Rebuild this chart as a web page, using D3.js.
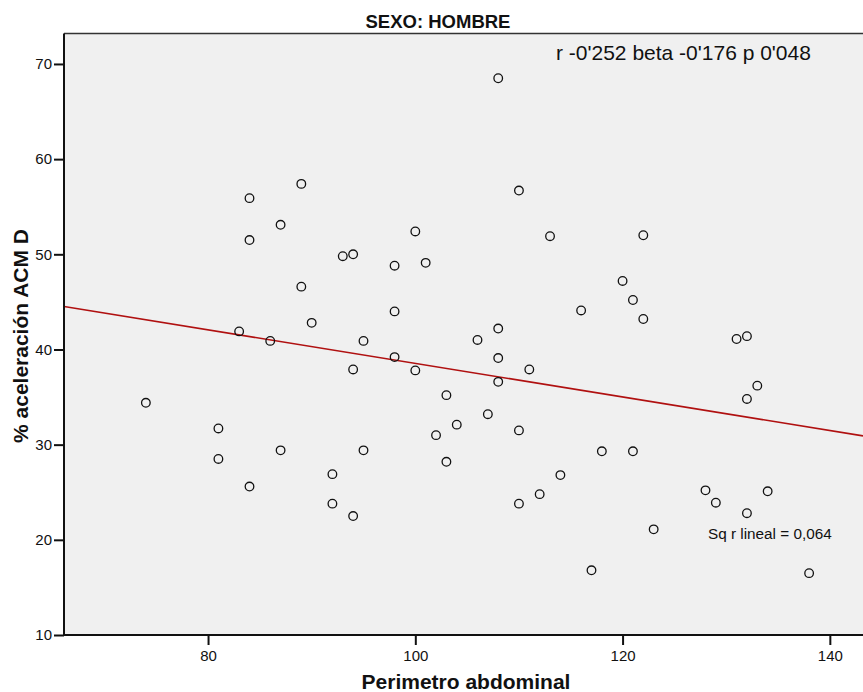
<!DOCTYPE html>
<html>
<head>
<meta charset="utf-8">
<script src="https://cdn.jsdelivr.net/npm/d3@7/dist/d3.min.js"></script>
<style>
  html, body { margin: 0; padding: 0; background: #ffffff; }
  svg { display: block; }
  text { font-family: "Liberation Sans", Arial, sans-serif; fill: #111; }
</style>
</head>
<body>
<svg id="chart" width="863" height="692"></svg>
<script>
// ---- Data ----
const perimetro = [
  74, 81, 81, 83, 84, 84, 84, 86, 87, 87, 89, 89, 90, 92, 92, 93, 94, 94, 94, 95, 95,
  98, 98, 98, 100, 100, 101, 102, 103, 103, 104, 106, 107, 108, 108, 108, 108,
  110, 110, 110, 111, 112, 113, 114, 116, 117, 118, 120, 121, 121, 122, 122, 123,
  128, 129, 131, 132, 132, 132, 133, 134, 138
];
const aceleracion = [
  34.4, 31.7, 28.5, 41.9, 55.9, 51.5, 25.6, 40.9, 53.1, 29.4, 57.4, 46.6, 42.8, 26.9, 23.8, 49.8, 50.0, 37.9, 22.5, 40.9, 29.4,
  48.8, 44.0, 39.2, 52.4, 37.8, 49.1, 31.0, 35.2, 28.2, 32.1, 41.0, 33.2, 68.5, 42.2, 39.1, 36.6,
  56.7, 31.5, 23.8, 37.9, 24.8, 51.9, 26.8, 44.1, 16.8, 29.3, 47.2, 45.2, 29.3, 43.2, 52.0, 21.1,
  25.2, 23.9, 41.1, 41.4, 34.8, 22.8, 36.2, 25.1, 16.5
];
const xTicks = [80, 100, 120, 140];
const yTicks = [10, 20, 30, 40, 50, 60, 70];
const titleText = "SEXO: HOMBRE";
const xLabel = "Perimetro abdominal";
const yLabel = "% aceleración ACM D";
const statsText = "r -0'252 beta -0'176 p 0'048";
const r2Text = "Sq r lineal = 0,064";

(function () {
// ---- Layout ----
const pLeft = 64, pRight = 863, pTop = 33.5, pBottom = 635;

const svg = d3.select("#chart");

const x = d3.scaleLinear().domain([66.1, 143.2]).range([pLeft, pRight]);
const y = d3.scaleLinear().domain([10, 73.2]).range([pBottom, pTop]);

// plot background
svg.append("rect")
  .attr("x", pLeft).attr("y", pTop)
  .attr("width", pRight - pLeft).attr("height", pBottom - pTop)
  .attr("fill", "#f0f0f0");

// top border
svg.append("line")
  .attr("x1", pLeft).attr("x2", pRight)
  .attr("y1", pTop).attr("y2", pTop)
  .attr("stroke", "#333").attr("stroke-width", 1.3);

svg.append("defs").append("clipPath").attr("id", "clip")
  .append("rect").attr("x", pLeft).attr("y", pTop)
  .attr("width", pRight - pLeft).attr("height", pBottom - pTop);

// regression line (least squares from data)
const n = perimetro.length;
const mx = d3.mean(perimetro), my = d3.mean(aceleracion);
let sxy = 0, sxx = 0;
for (let i = 0; i < n; i++) {
  sxy += (perimetro[i] - mx) * (aceleracion[i] - my);
  sxx += (perimetro[i] - mx) ** 2;
}
const slope = sxy / sxx, intercept = my - slope * mx;
const [x0, x1] = x.domain();
svg.append("line")
  .attr("clip-path", "url(#clip)")
  .attr("x1", x(x0)).attr("y1", y(intercept + slope * x0))
  .attr("x2", x(x1)).attr("y2", y(intercept + slope * x1))
  .attr("stroke", "#b01010").attr("stroke-width", 1.6);

// points
svg.append("g").selectAll("circle")
  .data(perimetro.map((v, i) => [v, aceleracion[i]]))
  .join("circle")
  .attr("cx", d => x(d[0]))
  .attr("cy", d => y(d[1]))
  .attr("r", 4.3)
  .attr("fill", "none")
  .attr("stroke", "#111")
  .attr("stroke-width", 1.3);

// axes
const xAxis = svg.append("g")
  .attr("transform", `translate(0,${pBottom})`)
  .call(d3.axisBottom(x).tickValues(xTicks).tickSize(10).tickSizeOuter(0).tickPadding(5));
const yAxis = svg.append("g")
  .attr("transform", `translate(${pLeft},0)`)
  .call(d3.axisLeft(y).tickValues(yTicks).tickSize(10).tickSizeOuter(0).tickPadding(2));

[xAxis, yAxis].forEach(g => {
  g.select(".domain").attr("stroke", "#111").attr("stroke-width", 2);
  g.selectAll(".tick line").attr("stroke", "#111").attr("stroke-width", 2);
  g.selectAll(".tick text")
    .attr("font-family", "'Liberation Sans', Arial, sans-serif")
    .attr("font-size", 15).attr("fill", "#111");
});
yAxis.select(".domain").attr("d", `M0,${pTop}V${pBottom}`);
xAxis.select(".domain").attr("d", `M${pLeft},0H${pRight}`);

// title
svg.append("text")
  .attr("x", 438).attr("y", 28.3)
  .attr("text-anchor", "middle")
  .attr("font-size", 18.5).attr("font-weight", "bold")
  .text(titleText);

// x label
svg.append("text")
  .attr("x", 466).attr("y", 689)
  .attr("text-anchor", "middle")
  .attr("font-size", 21).attr("font-weight", "bold")
  .text(xLabel);

// y label
svg.append("text")
  .attr("transform", "translate(28,336) rotate(-90)")
  .attr("text-anchor", "middle")
  .attr("font-size", 21).attr("font-weight", "bold")
  .text(yLabel);

// stats annotation
svg.append("text")
  .attr("x", 556).attr("y", 60)
  .attr("font-size", 21)
  .text(statsText);

// r squared annotation
svg.append("text")
  .attr("x", 708).attr("y", 539)
  .attr("font-size", 15.3)
  .text(r2Text);
})();
</script>
</body>
</html>
